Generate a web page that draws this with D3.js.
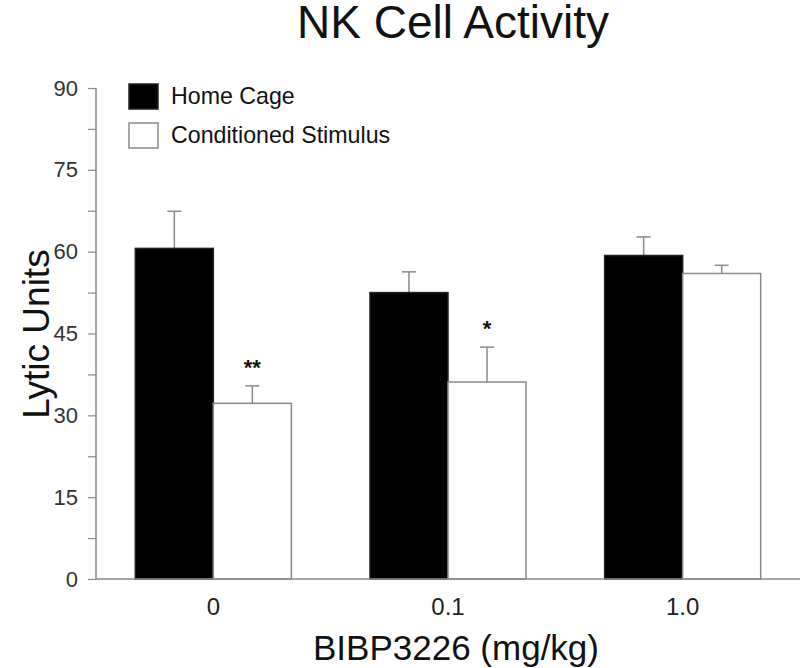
<!DOCTYPE html>
<html><head><meta charset="utf-8">
<script src="https://cdn.jsdelivr.net/npm/d3@7"></script>
<style>body{margin:0;background:#fff}svg{display:block}</style>
</head><body>
<svg id="c" width="800" height="668"></svg>
<script>
const doses = ["0", "0.1", "1.0"];
const seriesNames = ["Home Cage", "Conditioned Stimulus"];
const homeCage = [60.6, 52.5, 59.3];
const homeCageErr = [6.8, 3.8, 3.4];
const condStim = [32.2, 36.1, 56.0];
const condStimErr = [3.2, 6.4, 1.5];
const significance = ["**", "*", ""];
const yTicks = [0, 15, 30, 45, 60, 75, 90];
const yMinorTicks = [7.5, 22.5, 37.5, 52.5, 67.5, 82.5];

const svg = d3.select("#c");
const font = "'Liberation Sans', Arial, sans-serif";
const axisColor = "#8a8a8a";
const plotLeft = 96, plotRight = 800, plotTop = 88, plotBottom = 579;

const y = d3.scaleLinear().domain([0, 90]).range([plotBottom, plotTop]);
const x0 = d3.scaleBand().domain(doses).range([plotLeft, plotRight]).paddingInner(0.335).paddingOuter(0.1675);
const x1 = d3.scaleBand().domain(seriesNames).range([0, x0.bandwidth()]);

const data = doses.map((d, i) => ({
  dose: d,
  vals: [
    {s: seriesNames[0], v: homeCage[i], e: homeCageErr[i], fill: "#000"},
    {s: seriesNames[1], v: condStim[i], e: condStimErr[i], fill: "#fff", sig: significance[i]}
  ]
}));

const g = svg.append("g");
data.forEach(d => {
  d.vals.forEach(b => {
    const cx = x0(d.dose) + x1(b.s) + x1.bandwidth() / 2;
    g.append("line").attr("x1", cx).attr("x2", cx).attr("y1", y(b.v)).attr("y2", y(b.v + b.e))
      .attr("stroke", axisColor).attr("stroke-width", 1.5);
    g.append("line").attr("x1", cx - 7).attr("x2", cx + 7).attr("y1", y(b.v + b.e)).attr("y2", y(b.v + b.e))
      .attr("stroke", axisColor).attr("stroke-width", 1.5);
    if (b.sig) {
      g.append("text").attr("x", cx).attr("y", y(b.v + b.e) - 11)
        .attr("text-anchor", "middle").attr("font-family", font).attr("font-size", 22).attr("font-weight", "bold")
        .attr("fill", "#111").text(b.sig);
    }
  });
});

data.forEach(d => {
  d.vals.forEach(b => {
    g.append("rect")
      .attr("x", x0(d.dose) + x1(b.s))
      .attr("y", y(b.v))
      .attr("width", x1.bandwidth())
      .attr("height", y(0) - y(b.v))
      .attr("fill", b.fill)
      .attr("stroke", b.fill === "#000" ? "#222" : axisColor)
      .attr("stroke-width", 1.5);
  });
});

const yAxis = svg.append("g").attr("transform", `translate(${plotLeft},0)`)
  .call(d3.axisLeft(y).tickValues(yTicks).tickSize(8).tickPadding(10));
svg.append("g").attr("transform", `translate(${plotLeft},0)`)
  .call(d3.axisLeft(y).tickValues(yMinorTicks).tickSize(8).tickFormat(""))
  .call(a => a.select(".domain").remove())
  .selectAll("line").attr("stroke", axisColor).attr("stroke-width", 1.2);
yAxis.select(".domain").attr("stroke", axisColor).attr("stroke-width", 1.5).attr("d", `M0,${plotTop}V${plotBottom}`);
yAxis.selectAll(".tick line").attr("stroke", axisColor).attr("stroke-width", 1.2);
yAxis.selectAll(".tick text").attr("font-family", font).attr("font-size", 22).attr("fill", "#333");

const xAxis = svg.append("g").attr("transform", `translate(0,${plotBottom})`)
  .call(d3.axisBottom(x0).tickSize(0).tickPadding(19));
xAxis.select(".domain").attr("stroke", axisColor).attr("stroke-width", 1.5).attr("d", `M${plotLeft},0H${plotRight}`);
xAxis.selectAll(".tick text").attr("font-family", font).attr("font-size", 24).attr("fill", "#222");

svg.append("text").attr("x", 453).attr("y", 38).attr("text-anchor", "middle")
  .attr("font-family", font).attr("font-size", 46).attr("fill", "#111").text("NK Cell Activity");
svg.append("text").attr("transform", `translate(49,334) rotate(-90)`).attr("text-anchor", "middle")
  .attr("font-family", font).attr("font-size", 37).attr("fill", "#111").text("Lytic Units");
svg.append("text").attr("x", 456).attr("y", 660).attr("text-anchor", "middle")
  .attr("font-family", font).attr("font-size", 35).attr("fill", "#111").text("BIBP3226 (mg/kg)");

const legendFills = ["#000", "#fff"];
seriesNames.forEach((s, i) => {
  const ly = 84 + i * 39;
  svg.append("rect").attr("x", 129).attr("y", ly).attr("width", 29).attr("height", 25)
    .attr("fill", legendFills[i]).attr("stroke", i ? axisColor : "#222").attr("stroke-width", 1.5);
  svg.append("text").attr("x", 171).attr("y", ly + 20).attr("font-family", font).attr("font-size", 23.2)
    .attr("fill", "#111").text(s);
});
</script>
</body></html>
